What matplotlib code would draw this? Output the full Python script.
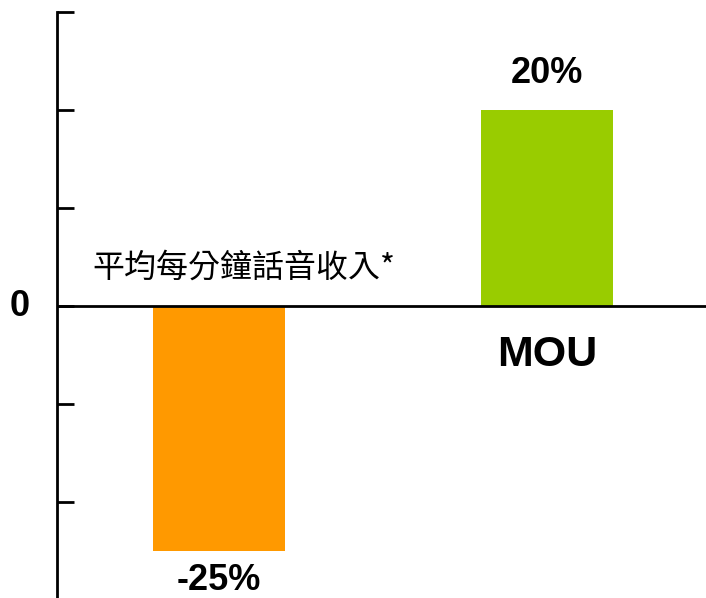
import matplotlib
matplotlib.use("Agg")
import matplotlib.pyplot as plt

# 數據
categorias = ["平均每分鐘話音收入*", "MOU"]
valores = [-25, 20]
etiquetas = ["-25%", "20%"]
colores = ["#FF9900", "#99CC00"]

fig = plt.figure(figsize=(7.06, 5.98), dpi=100)
ax = fig.add_axes([57 / 706, 0.0, 649 / 706, 586 / 598])

x = [0, 1]
ax.bar(x, valores, width=0.40, color=colores)

ax.set_xlim(-0.494, 1.485)
ax.set_ylim(-29.8, 30)

# Ejes: solo la línea izquierda y la del cero
for lado in ["top", "right", "bottom"]:
    ax.spines[lado].set_visible(False)
ax.spines["left"].set_linewidth(2)
ax.axhline(0, color="black", linewidth=2)

ax.set_xticks([])
ax.set_yticks([30, 20, 10, 0, -10, -20])
ax.set_yticklabels([])
ax.tick_params(axis="y", direction="in", length=12, width=2)

# Etiquetas de valor
fuente = "Liberation Sans"
ax.text(x[0], -28.0, etiquetas[0], ha="center", va="center",
        fontsize=26, fontweight="bold", family=fuente)
ax.text(x[1], 23.7, etiquetas[1], ha="center", va="center",
        fontsize=26, fontweight="bold", family=fuente)

# Nombres de categorías
ax.text(-0.386, 3.9, categorias[0], ha="left", va="center", fontsize=23,
        family=["Noto Sans CJK TC", "DejaVu Sans"])
ax.text(x[1], -5.0, categorias[1], ha="center", va="center", fontsize=31,
        fontweight="bold", family=fuente)

# Etiqueta del cero
fig.text(20 / 706, 1 - 306 / 598, "0", ha="center", va="center",
         fontsize=26, fontweight="bold", family=fuente)

fig.savefig("out.png", dpi=100)
